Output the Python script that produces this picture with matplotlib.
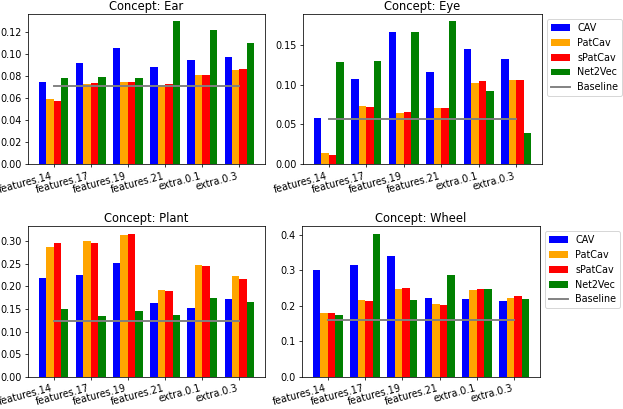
import matplotlib
matplotlib.use("Agg")
import matplotlib.pyplot as plt
import numpy as np

layers = ["features.14", "features.17", "features.19", "features.21", "extra.0.1", "extra.0.3"]
methods = ["CAV", "PatCav", "sPatCav", "Net2Vec"]
colors = ["blue", "orange", "red", "green"]

ear_cav = [0.0751, 0.0918, 0.1052, 0.0884, 0.0945, 0.0970]
ear_patcav = [0.0593, 0.0726, 0.0742, 0.0717, 0.0809, 0.0857]
ear_spatcav = [0.0574, 0.0739, 0.0748, 0.0726, 0.0809, 0.0863]
ear_net2vec = [0.0787, 0.0796, 0.0787, 0.1298, 0.1222, 0.1106]
ear_baseline = 0.0711

eye_cav = [0.0584, 0.1067, 0.1660, 0.1160, 0.1445, 0.1315]
eye_patcav = [0.0134, 0.0727, 0.0639, 0.0706, 0.1025, 0.1055]
eye_spatcav = [0.0109, 0.0714, 0.0651, 0.0710, 0.1046, 0.1063]
eye_net2vec = [0.1286, 0.1294, 0.1660, 0.1794, 0.0916, 0.0395]
eye_baseline = 0.0563

plant_cav = [0.2180, 0.2262, 0.2520, 0.1633, 0.1523, 0.1722]
plant_patcav = [0.2882, 0.3015, 0.3149, 0.1922, 0.2476, 0.2225]
plant_spatcav = [0.2956, 0.2971, 0.3171, 0.1907, 0.2454, 0.2158]
plant_net2vec = [0.1500, 0.1353, 0.1449, 0.1360, 0.1737, 0.1656]
plant_baseline = 0.1242

wheel_cav = [0.3014, 0.3155, 0.3400, 0.2207, 0.2197, 0.2122]
wheel_patcav = [0.1784, 0.2169, 0.2479, 0.2047, 0.2441, 0.2225]
wheel_spatcav = [0.1784, 0.2131, 0.2488, 0.2028, 0.2470, 0.2263]
wheel_net2vec = [0.1728, 0.4028, 0.2160, 0.2864, 0.2460, 0.2197]
wheel_baseline = 0.1606

panels = [
    ("Ear", [ear_cav, ear_patcav, ear_spatcav, ear_net2vec], ear_baseline),
    ("Eye", [eye_cav, eye_patcav, eye_spatcav, eye_net2vec], eye_baseline),
    ("Plant", [plant_cav, plant_patcav, plant_spatcav, plant_net2vec], plant_baseline),
    ("Wheel", [wheel_cav, wheel_patcav, wheel_spatcav, wheel_net2vec], wheel_baseline),
]

DPI = 69
W, H = 623, 409
fig = plt.figure(figsize=(W / DPI, H / DPI), dpi=DPI)
rects = [
    (28, 14.3, 265, 164),
    (303, 14.3, 542, 164),
    (28, 226.5, 265, 376.7),
    (302, 226.5, 540, 376.7),
]

x = np.arange(len(layers))
width = 0.2
offsets = [-0.3, -0.1, 0.1, 0.3]

for i, ((name, series, base), (l, t, r, b)) in enumerate(zip(panels, rects)):
    ax = fig.add_axes([l / W, 1 - b / H, (r - l) / W, (b - t) / H])
    handles = []
    for vals, off, c, m in zip(series, offsets, colors, methods):
        handles.append(ax.bar(x + off, vals, width, color=c, label=m))
    (ln,) = ax.plot([x[0], x[-1]], [base, base], color="gray", linewidth=2, label="Baseline")
    handles.append(ln)
    ax.set_xticks(x)
    ax.set_xticklabels(layers, rotation=15, ha="right")
    ax.set_title(f"Concept: {name}", pad=5)
    if i in (1, 3):
        ax.legend(handles=handles, loc="upper left", bbox_to_anchor=(1, 1))

fig.savefig("out.png", dpi=DPI)
